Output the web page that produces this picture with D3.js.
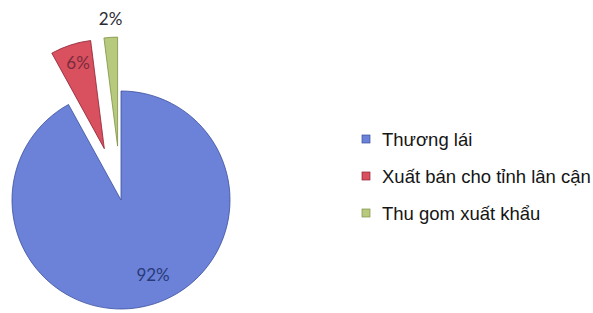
<!DOCTYPE html>
<html>
<head>
<meta charset="utf-8">
<script src="https://cdn.jsdelivr.net/npm/d3@7"></script>
<style>
  body { margin: 0; background: #fff; }
  svg { display: block; }
</style>
</head>
<body>
<div id="chart"></div>
<script>
// data
const categories = ['Thương lái', 'Xuất bán cho tỉnh lân cận', 'Thu gom xuất khẩu'];
const values = [92, 6, 2];
const labels = ['92%', '6%', '2%'];
const exploded = [false, true, true];

const fills = ['#6b82d8', '#d9505e', '#b7c97c'];
const strokes = ['#3a4e9e', '#8c2233', '#7e9044'];
const labelColors = ['#2a3a78', '#7a2c3e', '#2b2b33'];

const W = 593, H = 313;
const cx = 121, cy = 200, R = 109, explode = 54;

const svg = d3.select('#chart').append('svg').attr('width', W).attr('height', H);

const pie = d3.pie().sort(null).value(d => d);
const arcs = pie(values);
const arcGen = d3.arc().innerRadius(0).outerRadius(R);

const g = svg.append('g').attr('transform', 'translate(' + cx + ',' + cy + ')');

const slices = g.selectAll('g.slice').data(arcs).enter().append('g')
  .attr('class', 'slice')
  .attr('transform', (d, i) => {
    if (!exploded[i]) return null;
    const a = (d.startAngle + d.endAngle) / 2;
    return 'translate(' + (Math.sin(a) * explode) + ',' + (-Math.cos(a) * explode) + ')';
  });

slices.append('path')
  .attr('d', arcGen)
  .attr('fill', (d, i) => fills[i])
  .attr('stroke', (d, i) => strokes[i])
  .attr('stroke-width', 0.8);

// label radius per slice (last one sits outside) and small nudges
const labelR = [0.74, 0.84, 1.17];
const nudge = [[12, -3], [2, 1], [1, 0]];

slices.append('text')
  .attr('transform', (d, i) => {
    const c = d3.arc().innerRadius(R * labelR[i]).outerRadius(R * labelR[i]).centroid(d);
    return 'translate(' + (c[0] + nudge[i][0]) + ',' + (c[1] + nudge[i][1]) + ')';
  })
  .attr('text-anchor', 'middle')
  .attr('dy', '0.36em')
  .attr('font-family', 'Lato, "Open Sans", sans-serif')
  .attr('font-size', 17)
  .attr('fill', (d, i) => labelColors[i])
  .text((d, i) => labels[i]);

// legend
const legend = svg.append('g').attr('transform', 'translate(362,0)');
const rowY = d3.scalePoint().domain(categories).range([146, 220]);

const item = legend.selectAll('g.item').data(categories).enter().append('g')
  .attr('class', 'item')
  .attr('transform', d => 'translate(0,' + rowY(d) + ')');

item.append('rect')
  .attr('x', 0).attr('y', -11)
  .attr('width', 8).attr('height', 8)
  .attr('fill', (d, i) => fills[i])
  .attr('stroke', (d, i) => strokes[i])
  .attr('stroke-width', 0.7);

item.append('text')
  .attr('x', 20).attr('y', 0)
  .attr('font-family', '"Liberation Sans", Arial, sans-serif')
  .attr('font-size', 18.5)
  .attr('fill', '#151515')
  .text(d => d);
</script>
</body>
</html>
